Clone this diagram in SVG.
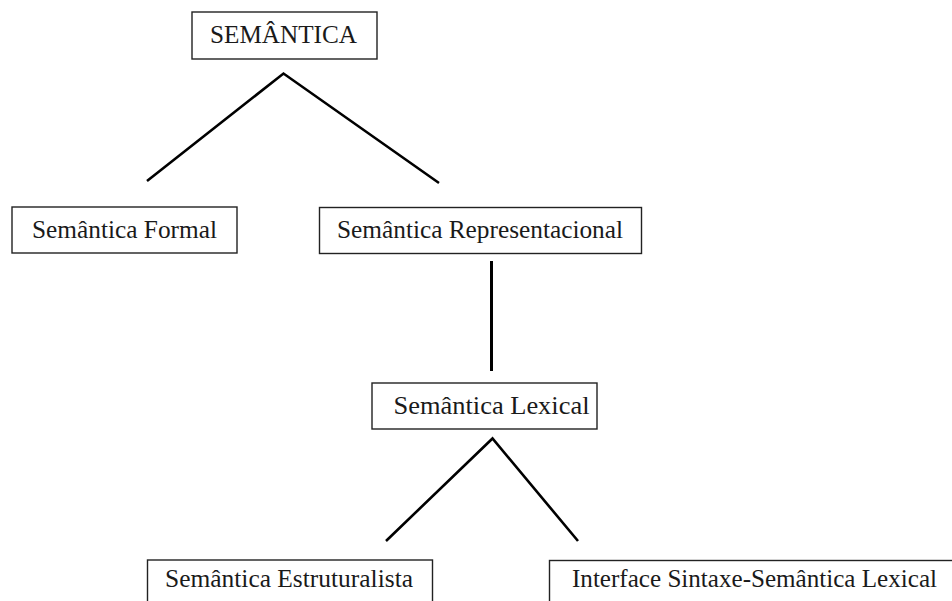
<svg xmlns="http://www.w3.org/2000/svg" width="952" height="601" viewBox="0 0 952 601">
<style>
.box{fill:#fff;stroke:#222;stroke-width:1.4}
.lbl{font-family:"Liberation Serif","Times New Roman",serif;font-size:25px;fill:#1a1a1a}
.conn{stroke:#000;stroke-width:2.6;fill:none;stroke-linecap:butt}
</style>
<rect width="952" height="601" fill="#fff"/>
<g id="connectors">
<polyline class="conn" points="147,181 283.5,73.5 439,183"/>
<line class="conn" x1="491.5" y1="261" x2="491.5" y2="371" style="stroke-width:3"/>
<polyline class="conn" points="386,541 492.5,438.5 578,541"/>
</g>
<g id="semantica">
<rect class="box" x="192" y="12" width="185" height="47"/>
<text class="lbl" x="210" y="43" textLength="147" lengthAdjust="spacingAndGlyphs">SEMÂNTICA</text>
</g>
<g id="formal">
<rect class="box" x="12" y="207" width="225" height="46"/>
<text class="lbl" x="32" y="237.5" textLength="185" lengthAdjust="spacingAndGlyphs">Semântica Formal</text>
</g>
<g id="representacional">
<rect class="box" x="319.5" y="207.5" width="322" height="46"/>
<text class="lbl" x="337" y="237.5" textLength="286" lengthAdjust="spacingAndGlyphs">Semântica Representacional</text>
</g>
<g id="lexical">
<rect class="box" x="372" y="383" width="225" height="46"/>
<text class="lbl" x="393.5" y="413.5" textLength="196" lengthAdjust="spacingAndGlyphs">Semântica Lexical</text>
</g>
<g id="estruturalista">
<rect class="box" x="147.5" y="560" width="285" height="60"/>
<text class="lbl" x="165" y="587" textLength="248" lengthAdjust="spacingAndGlyphs">Semântica Estruturalista</text>
</g>
<g id="interface">
<rect class="box" x="549.5" y="560.5" width="420" height="60"/>
<text class="lbl" x="572" y="587" textLength="365" lengthAdjust="spacingAndGlyphs">Interface Sintaxe-Semântica Lexical</text>
</g>
</svg>
